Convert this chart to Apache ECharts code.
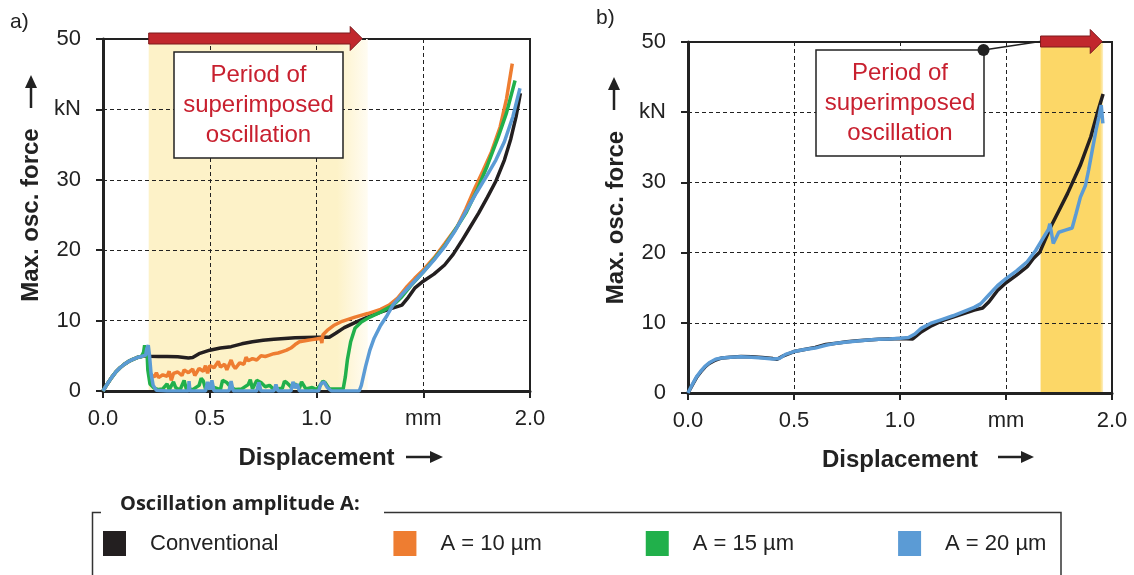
<!DOCTYPE html>
<html><head><meta charset="utf-8">
<script src="https://cdn.jsdelivr.net/npm/echarts@6/dist/echarts.min.js"></script>
<style>html,body{margin:0;padding:0;background:#fff}#c{width:1134px;height:575px}</style>
</head><body><div id="c"></div>
<script>
// ---- data ----
const seriesNames = ['Conventional', 'A = 10 µm', 'A = 15 µm', 'A = 20 µm'];
const xTicks = [0, 0.5, 1.0, 1.5, 2.0];
const yTicks = [0, 10, 20, 30, 40, 50];
const periodA = [0.214, 1.24];
const periodB = [1.663, 1.958];
const arrowA = [0.214, 1.214];
const arrowB = [1.663, 1.954];

const convA = [[0,0],[0.02,1.0],[0.04,1.9],[0.06,2.7],[0.08,3.3],[0.10,3.8],[0.12,4.2],[0.14,4.5],[0.16,4.75],[0.18,4.9],[0.20,5.0],[0.22,4.95],[0.26,4.9],[0.30,4.9],[0.35,4.85],[0.40,4.7],[0.42,4.75],[0.45,5.3],[0.50,5.8],[0.55,6.1],[0.60,6.3],[0.65,6.7],[0.70,7.0],[0.75,7.2],[0.80,7.35],[0.85,7.45],[0.90,7.55],[0.95,7.6],[1.00,7.65],[1.06,7.65],[1.09,8.2],[1.13,9.0],[1.18,9.7],[1.24,10.5],[1.30,11.2],[1.36,11.8],[1.40,12.2],[1.43,13.3],[1.46,14.6],[1.50,15.6],[1.55,16.6],[1.60,17.9],[1.64,19.4],[1.68,21.3],[1.72,23.3],[1.76,25.3],[1.80,27.5],[1.84,29.8],[1.88,32.8],[1.91,35.8],[1.935,39.0],[1.955,42.3]];
const a10A = [[0,0],[0.02,1.0],[0.04,1.9],[0.06,2.7],[0.08,3.3],[0.10,3.8],[0.12,4.2],[0.14,4.5],[0.16,4.75],[0.18,4.9],[0.20,5.1],[0.205,5.6],[0.21,4.5],[0.215,3.0],[0.225,2.3],[0.24,2.0],[0.25,2.6],[0.26,1.9],[0.28,2.3],[0.30,2.1],[0.31,2.8],[0.32,1.5],[0.33,2.5],[0.35,2.7],[0.37,2.2],[0.38,3.0],[0.40,2.6],[0.42,3.1],[0.43,2.2],[0.45,3.2],[0.47,2.8],[0.48,3.6],[0.49,2.5],[0.50,3.6],[0.52,3.3],[0.54,4.2],[0.55,3.4],[0.57,3.8],[0.58,3.0],[0.60,4.4],[0.61,3.6],[0.62,3.2],[0.64,4.0],[0.66,3.8],[0.67,4.8],[0.68,4.3],[0.70,4.6],[0.72,4.4],[0.74,5.0],[0.76,4.9],[0.78,5.1],[0.80,5.3],[0.82,5.4],[0.84,5.6],[0.86,5.8],[0.88,6.1],[0.90,6.6],[0.92,7.0],[0.94,7.1],[0.96,7.2],[0.98,7.3],[1.00,7.4],[1.02,7.5],[1.025,6.8],[1.03,8.0],[1.05,8.6],[1.08,9.3],[1.12,9.9],[1.18,10.5],[1.24,11.0],[1.30,11.6],[1.34,12.2],[1.38,13.2],[1.42,14.7],[1.46,16.0],[1.50,17.2],[1.55,18.9],[1.60,20.9],[1.66,23.4],[1.70,25.9],[1.74,28.7],[1.78,31.3],[1.82,34.0],[1.86,37.5],[1.89,41.5],[1.917,46.5]];
const a15A = [[0,0],[0.02,1.0],[0.04,1.9],[0.06,2.7],[0.08,3.3],[0.10,3.8],[0.12,4.2],[0.14,4.5],[0.16,4.75],[0.18,4.9],[0.19,5.5],[0.195,6.5],[0.20,5.2],[0.205,6.3],[0.21,3.0],[0.22,1.0],[0.24,0.4],[0.26,0.2],[0.28,0.3],[0.30,1.0],[0.31,0.2],[0.33,1.3],[0.34,0.5],[0.36,0.1],[0.38,1.5],[0.39,0.3],[0.42,0.2],[0.45,0.8],[0.46,1.8],[0.47,1.4],[0.48,0.3],[0.52,0.5],[0.55,0.2],[0.56,1.5],[0.58,1.2],[0.60,0.5],[0.62,0.2],[0.65,0.3],[0.68,0.9],[0.69,1.6],[0.70,0.3],[0.72,1.5],[0.74,1.2],[0.76,0.6],[0.78,0.8],[0.80,0.2],[0.84,0.4],[0.85,1.4],[0.86,1.2],[0.88,0.6],[0.90,1.0],[0.92,0.4],[0.93,1.3],[0.95,0.3],[0.98,0.5],[1.00,0.2],[1.02,0.9],[1.03,1.4],[1.04,1.2],[1.06,0.3],[1.10,0.3],[1.125,0.3],[1.135,2.0],[1.145,4.5],[1.16,7.0],[1.18,8.9],[1.21,9.8],[1.25,10.5],[1.30,11.2],[1.36,12.2],[1.40,13.4],[1.44,14.9],[1.50,16.9],[1.55,18.7],[1.60,20.6],[1.65,22.9],[1.70,25.3],[1.75,28.4],[1.80,32.0],[1.85,36.0],[1.89,39.5],[1.93,44.1]];
const a20A = [[0,0],[0.02,1.0],[0.04,1.9],[0.06,2.7],[0.08,3.3],[0.10,3.8],[0.12,4.2],[0.14,4.5],[0.16,4.75],[0.18,4.9],[0.20,5.1],[0.205,6.0],[0.212,6.5],[0.218,5.0],[0.225,2.5],[0.235,0.8],[0.25,0.1],[0.30,0.0],[0.40,0.0],[0.403,1.4],[0.407,0.0],[0.48,0.0],[0.49,1.3],[0.50,0.2],[0.51,1.5],[0.52,0.0],[0.59,0.0],[0.60,1.4],[0.61,0.0],[0.72,0.0],[0.73,1.2],[0.74,0.0],[0.80,0.0],[0.81,0.9],[0.82,0.0],[0.88,0.0],[0.89,1.3],[0.90,0.4],[0.91,1.0],[0.92,0.0],[1.01,0.0],[1.02,1.0],[1.035,1.3],[1.05,0.5],[1.07,0.0],[1.20,0.0],[1.21,0.8],[1.23,3.5],[1.25,5.8],[1.27,7.5],[1.30,9.3],[1.33,10.7],[1.36,12.3],[1.40,13.7],[1.45,15.3],[1.50,16.9],[1.55,18.6],[1.60,20.5],[1.65,22.8],[1.70,25.5],[1.75,28.2],[1.80,30.7],[1.84,32.8],[1.88,35.4],[1.92,39.0],[1.953,43.0]];

const convB = [[0,0],[0.02,1.1],[0.04,2.2],[0.06,3.0],[0.08,3.7],[0.10,4.2],[0.13,4.7],[0.16,5.0],[0.20,5.1],[0.25,5.2],[0.30,5.15],[0.35,5.05],[0.40,4.9],[0.42,4.8],[0.45,5.3],[0.50,5.9],[0.55,6.2],[0.60,6.5],[0.65,6.9],[0.70,7.1],[0.75,7.3],[0.80,7.45],[0.85,7.55],[0.90,7.65],[0.95,7.7],[1.00,7.75],[1.06,7.7],[1.10,8.7],[1.15,9.6],[1.20,10.3],[1.25,10.8],[1.30,11.3],[1.35,11.8],[1.39,12.1],[1.42,13.0],[1.46,14.6],[1.50,15.7],[1.55,16.8],[1.60,18.0],[1.63,19.2],[1.66,20.1],[1.71,23.6],[1.75,26.0],[1.79,28.4],[1.85,32.4],[1.90,36.5],[1.93,39.8],[1.958,42.6]];
const a20B = [[0,0],[0.02,1.2],[0.04,2.3],[0.06,3.1],[0.08,3.8],[0.10,4.3],[0.13,4.8],[0.16,5.0],[0.20,5.1],[0.25,5.15],[0.30,5.1],[0.35,5.0],[0.40,4.85],[0.43,4.9],[0.46,5.5],[0.50,5.9],[0.55,6.2],[0.60,6.4],[0.65,6.8],[0.70,7.1],[0.75,7.25],[0.80,7.4],[0.85,7.55],[0.90,7.65],[0.95,7.7],[1.00,7.8],[1.04,7.9],[1.07,8.4],[1.10,9.2],[1.15,10.0],[1.20,10.5],[1.25,11.0],[1.30,11.6],[1.35,12.2],[1.38,12.7],[1.42,14.0],[1.46,15.3],[1.50,16.3],[1.55,17.4],[1.60,18.7],[1.64,20.3],[1.68,22.3],[1.70,23.3],[1.707,24.1],[1.723,21.3],[1.749,22.9],[1.78,23.2],[1.812,23.5],[1.83,25.5],[1.851,27.9],[1.875,29.6],[1.89,31.8],[1.907,34.6],[1.925,37.5],[1.938,39.3],[1.949,41.0],[1.957,38.4]];

// ---- styles ----
const colors = ['#231f20', '#ee7d31', '#21b04b', '#5b9bd5'];
const FONT = '"Liberation Sans", Arial, sans-serif';
const TXT = '#222';

function xAxisCfg(gi) {
  return {
    type: 'value', gridIndex: gi, min: 0, max: 2, interval: 0.5, z: 4,
    name: 'Displacement', nameLocation: 'middle', nameGap: 55,
    nameTextStyle: { fontFamily: FONT, fontSize: 24, fontWeight: 'bold', color: TXT },
    axisLine: { show: true, lineStyle: { color: TXT, width: 3 } },
    axisTick: { show: true, length: 7, inside: false, lineStyle: { color: TXT, width: 2 } },
    axisLabel: { show: true, margin: 17, fontFamily: FONT, fontSize: 22, color: TXT,
      formatter: v => (Math.abs(v - 1.5) < 1e-6 ? 'mm' : v.toFixed(1)) },
    splitLine: { show: true, lineStyle: { color: TXT, width: 1, type: [4, 3] } }
  };
}
function yAxisCfg(gi) {
  return {
    type: 'value', gridIndex: gi, min: 0, max: 50, interval: 10, z: 4,
    name: 'Max. osc. force', nameLocation: 'middle', nameRotate: 90, nameGap: 60,
    nameTextStyle: { fontFamily: FONT, fontSize: 24, fontWeight: 'bold', color: TXT },
    axisLine: { show: true, lineStyle: { color: TXT, width: 3 } },
    axisTick: { show: true, length: 7, inside: false, lineStyle: { color: TXT, width: 2 } },
    axisLabel: { show: true, margin: 22, fontFamily: FONT, fontSize: 22, color: TXT,
      formatter: v => (v === 40 ? 'kN' : String(v)) },
    splitLine: { show: true, lineStyle: { color: TXT, width: 1, type: [4, 3] } }
  };
}
function lineSeries(name, data, ci, gi, z) {
  return {
    type: 'line', name, data, xAxisIndex: gi, yAxisIndex: gi, showSymbol: false, symbol: 'none',
    color: colors[ci], lineStyle: { color: colors[ci], width: 3.5 }, z, silent: true, animation: false
  };
}
function shadeSeries(gi, period, c1, c2, stop) {
  return {
    type: 'line', data: [], xAxisIndex: gi, yAxisIndex: gi, z: 1, silent: true,
    markArea: { silent: true, z: 1,
      itemStyle: { color: new echarts.graphic.LinearGradient(0, 0, 1, 0,
        [{ offset: 0, color: c1 }, { offset: stop, color: c1 }, { offset: 1, color: c2 }]) },
      data: [[{ xAxis: period[0], yAxis: 0 }, { xAxis: period[1], yAxis: 50 }]] }
  };
}

const chart = echarts.init(document.getElementById('c'), null, { renderer: 'canvas' });
const option = {
  animation: false,
  backgroundColor: '#fff',
  grid: [
    { left: 103, top: 39, width: 427, height: 352, show: true, borderColor: TXT, borderWidth: 2, backgroundColor: 'transparent' },
    { left: 688, top: 42, width: 424, height: 351, show: true, borderColor: TXT, borderWidth: 2, backgroundColor: 'transparent' }
  ],
  xAxis: [xAxisCfg(0), xAxisCfg(1)],
  yAxis: [yAxisCfg(0), yAxisCfg(1)],
  legend: {
    data: seriesNames,
    formatter: name => (name === seriesNames[0] ? name + '\u2002' : name),
    icon: 'rect', itemWidth: 23, itemHeight: 25, itemGap: 104, padding: 0,
    left: 103, top: 531, selectedMode: false,
    textStyle: { fontFamily: FONT, fontSize: 22, color: TXT, padding: [0, 0, 0, 19] }
  },
  series: [
    shadeSeries(0, periodA, '#fdf2c8', '#fffcf2', 0.86),
    shadeSeries(1, periodB, '#fcd767', '#fdf0c4', 0.95),
    lineSeries(seriesNames[0], convA, 0, 0, 3),
    lineSeries(seriesNames[1], a10A, 1, 0, 4),
    lineSeries(seriesNames[2], a15A, 2, 0, 5),
    lineSeries(seriesNames[3], a20A, 3, 0, 6),
    lineSeries(seriesNames[0], convB, 0, 1, 3),
    lineSeries(seriesNames[3], a20B, 3, 1, 6)
  ]
};
chart.setOption(option);

// ---- annotations ----
function redArrow(gi, range) {
  const p0 = chart.convertToPixel({ gridIndex: gi }, [range[0], 50]);
  const p1 = chart.convertToPixel({ gridIndex: gi }, [range[1], 50]);
  const y = p0[1] - 0.5, x0 = p0[0], xt = p1[0], xb = xt - 12;
  return { type: 'polygon', z: 50,
    shape: { points: [[x0, y - 5.5], [xb, y - 5.5], [xb, y - 12], [xt, y], [xb, y + 12], [xb, y + 5.5], [x0, y + 5.5]] },
    style: { fill: '#c1272d', stroke: '#7d1a1d', lineWidth: 1 } };
}
function textBox(x, y, w, h) {
  return [
    { type: 'rect', z: 50, shape: { x, y, width: w, height: h }, style: { fill: '#fff', stroke: TXT, lineWidth: 1.5 } },
    { type: 'text', z: 51, x: x + w / 2, y: y + h / 2,
      style: { text: 'Period of\nsuperimposed\noscillation', font: '24px ' + FONT, fill: '#c8202f',
        align: 'center', verticalAlign: 'middle', lineHeight: 30 } }
  ];
}
function upArrow(x, yTop, yBot) {
  return [
    { type: 'line', z: 50, shape: { x1: x, y1: yTop + 10, x2: x, y2: yBot }, style: { stroke: TXT, lineWidth: 2.5 } },
    { type: 'polygon', z: 50, shape: { points: [[x, yTop], [x - 6, yTop + 13], [x + 6, yTop + 13]] }, style: { fill: TXT } }
  ];
}
function rightArrow(xL, xR, y) {
  return [
    { type: 'line', z: 50, shape: { x1: xL, y1: y, x2: xR - 10, y2: y }, style: { stroke: TXT, lineWidth: 2.5 } },
    { type: 'polygon', z: 50, shape: { points: [[xR, y], [xR - 13, y - 6], [xR - 13, y + 6]] }, style: { fill: TXT } }
  ];
}
const LC = '#333';
const graphics = [
  { type: 'text', x: 10, y: 12, style: { text: 'a)', font: '21px ' + FONT, fill: TXT } },
  { type: 'text', x: 596, y: 8, style: { text: 'b)', font: '21px ' + FONT, fill: TXT } },
  redArrow(0, arrowA), redArrow(1, arrowB),
  ...textBox(174, 52, 169, 106),
  ...textBox(816, 50, 168, 106),
  { type: 'line', z: 50, shape: { x1: 983.5, y1: 50, x2: 1040, y2: 41.5 }, style: { stroke: TXT, lineWidth: 1.5 } },
  { type: 'circle', z: 52, shape: { cx: 983.5, cy: 50, r: 6 }, style: { fill: TXT } },
  ...upArrow(31, 75, 108), ...upArrow(614, 77, 110),
  ...rightArrow(406, 443, 457), ...rightArrow(998, 1034, 457),
  // legend frame
  { type: 'polyline', shape: { points: [[92.5, 575], [92.5, 512.5], [101, 512.5]] }, style: { stroke: LC, lineWidth: 1.5, fill: null } },
  { type: 'polyline', shape: { points: [[384, 512.5], [1061, 512.5], [1061, 575]] }, style: { stroke: LC, lineWidth: 1.5, fill: null } },
  { type: 'text', x: 120, y: 504, style: { text: 'Oscillation amplitude A:', font: 'bold 20px "Open Sans", sans-serif', fill: TXT, verticalAlign: 'middle' } }
];
chart.setOption({ graphic: graphics });
</script></body></html>
